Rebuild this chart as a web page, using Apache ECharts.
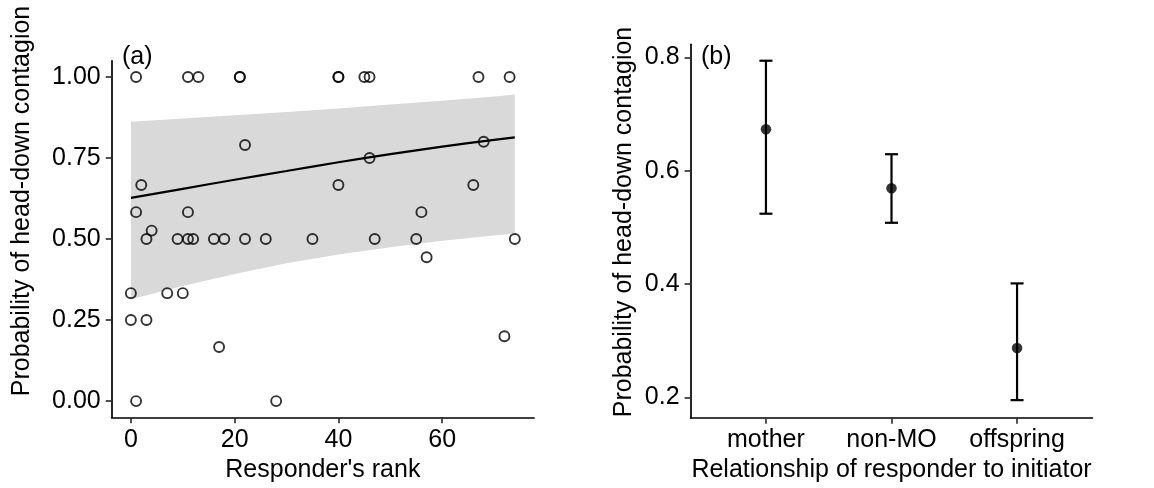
<!DOCTYPE html>
<html>
<head>
<meta charset="utf-8">
<script src="https://cdn.jsdelivr.net/npm/echarts@6/dist/echarts.min.js"></script>
<style>
html,body{margin:0;padding:0;background:#fff;}
#chart{width:1154px;height:488px;}
</style>
</head>
<body>
<div id="chart"></div>
<script>
// ---------- Panel (a) data ----------
const rankX = [1,11,13,21,21,40,40,45,46,67,73,
               22,68,46,
               2,40,66,
               1,11,56,
               4,
               3,9,11,12,16,18,22,26,35,47,55,74,
               57,
               0,7,10,
               0,3,
               72,
               17,
               1,28];
const probY = [1,1,1,1,1,1,1,1,1,1,1,
               0.79,0.8,0.75,
               0.667,0.667,0.667,
               0.583,0.583,0.583,
               0.526,
               0.5,0.5,0.5,0.5,0.5,0.5,0.5,0.5,0.5,0.5,0.5,0.5,
               0.444,
               0.333,0.333,0.333,
               0.25,0.25,
               0.2,
               0.167,
               0,0];
// fitted curve and confidence band
const fitX  = [0, 10, 20, 30, 40, 50, 60, 70, 74];
const fitY  = [0.627, 0.655, 0.683, 0.710, 0.737, 0.762, 0.785, 0.806, 0.814];
const loY   = [0.314, 0.355, 0.392, 0.425, 0.452, 0.475, 0.495, 0.511, 0.517];
const hiY   = [0.862, 0.872, 0.882, 0.892, 0.903, 0.915, 0.927, 0.940, 0.946];
const xTicksA = [0, 20, 40, 60];
const yTicksA = [0, 0.25, 0.5, 0.75, 1];

// ---------- Panel (b) data ----------
const relCats  = ['mother', 'non-MO', 'offspring'];
const relMean  = [0.673, 0.569, 0.287];
const relLower = [0.524, 0.508, 0.195];
const relUpper = [0.794, 0.629, 0.401];
const yTicksB  = [0.2, 0.4, 0.6, 0.8];

const FONT = '"Liberation Sans", Arial, Helvetica, sans-serif';
const FS = 25;
const INK = '#000000';

const chart = echarts.init(document.getElementById('chart'), null, {renderer: 'canvas'});

const scatterData = rankX.map((x, i) => [x, probY[i]]);
const fitData = fitX.map((x, i) => [x, fitY[i]]);
const bandData = fitX.map((x, i) => [x, loY[i], hiY[i]]);
const errData = relCats.map((c, i) => [i + 1, relLower[i], relUpper[i]]);
const meanData = relCats.map((c, i) => [i + 1, relMean[i]]);

function axis(extra) {
  return Object.assign({
    type: 'value',
    axisLine: {show: true, onZero: false, lineStyle: {color: INK, width: 1.7}},
    splitLine: {show: false}
  }, extra);
}
function ticks(vals) {
  return {show: true, length: 6, customValues: vals, lineStyle: {color: '#333', width: 1.7}};
}
function labels(vals, fmt, margin) {
  return {color: INK, fontFamily: FONT, fontSize: FS, margin: margin, customValues: vals, formatter: fmt};
}

const option = {
  backgroundColor: '#ffffff',
  animation: false,
  textStyle: {fontFamily: FONT},
  grid: [
    {left: 111.7, top: 60.8, width: 422.3, height: 356.5, containLabel: false, outerBoundsMode: 'none'},
    {left: 690.6, top: 44.3, width: 401.8, height: 373.4, containLabel: false, outerBoundsMode: 'none'}
  ],
  xAxis: [
    axis({
      gridIndex: 0, min: -3.7, max: 77.7,
      axisTick: ticks(xTicksA),
      axisLabel: labels(xTicksA, v => String(v), 10),
      name: "Responder's rank", nameLocation: 'middle', nameGap: 29,
      nameTextStyle: {color: INK, fontFamily: FONT, fontSize: FS}
    }),
    axis({
      gridIndex: 1, min: 0.4, max: 3.6,
      axisTick: ticks([1, 2, 3]),
      axisLabel: labels([1, 2, 3], v => relCats[Math.round(v) - 1] || '', 10),
      name: 'Relationship of responder to initiator', nameLocation: 'middle', nameGap: 29,
      nameTextStyle: {color: INK, fontFamily: FONT, fontSize: FS}
    })
  ],
  yAxis: [
    axis({
      gridIndex: 0, min: -0.05, max: 1.05,
      axisTick: ticks(yTicksA),
      axisLabel: labels(yTicksA, v => v.toFixed(2), 11)
    }),
    axis({
      gridIndex: 1, min: 0.164, max: 0.823,
      axisTick: ticks(yTicksB),
      axisLabel: labels(yTicksB, v => v.toFixed(1), 11)
    })
  ],
  graphic: [
    {type: 'text', x: 22, y: 201, rotation: Math.PI / 2,
     style: {text: 'Probability of head-down contagion', fill: INK, font: FS + 'px ' + FONT,
             align: 'center', verticalAlign: 'middle'}},
    {type: 'text', x: 624, y: 222, rotation: Math.PI / 2,
     style: {text: 'Probability of head-down contagion', fill: INK, font: FS + 'px ' + FONT,
             align: 'center', verticalAlign: 'middle'}},
    {type: 'text', x: 122, y: 57,
     style: {text: '(a)', fill: INK, font: FS + 'px ' + FONT, align: 'left', verticalAlign: 'middle'}},
    {type: 'text', x: 701, y: 57,
     style: {text: '(b)', fill: INK, font: FS + 'px ' + FONT, align: 'left', verticalAlign: 'middle'}}
  ],
  series: [
    {
      type: 'custom', xAxisIndex: 0, yAxisIndex: 0, z: 1, silent: true,
      data: bandData, encode: {x: 0, y: [1, 2]},
      renderItem: function (params, api) {
        if (params.dataIndex !== 0) return null;
        const pts = [];
        for (let i = 0; i < bandData.length; i++) pts.push(api.coord([bandData[i][0], bandData[i][2]]));
        for (let i = bandData.length - 1; i >= 0; i--) pts.push(api.coord([bandData[i][0], bandData[i][1]]));
        return {type: 'polygon', shape: {points: pts}, style: {fill: '#d9d9d9'}};
      }
    },
    {
      type: 'line', xAxisIndex: 0, yAxisIndex: 0, z: 2, data: fitData, smooth: true,
      showSymbol: false, lineStyle: {color: INK, width: 2.2}
    },
    {
      type: 'scatter', xAxisIndex: 0, yAxisIndex: 0, z: 3, data: scatterData,
      symbol: 'circle', symbolSize: 10,
      itemStyle: {color: 'rgba(0,0,0,0)', borderColor: INK, borderWidth: 1.9}
    },
    {
      type: 'custom', xAxisIndex: 1, yAxisIndex: 1, z: 2, data: errData, encode: {x: 0, y: [1, 2]},
      renderItem: function (params, api) {
        const x = api.value(0);
        const lo = api.coord([x, api.value(1)]);
        const hi = api.coord([x, api.value(2)]);
        const hw = 6.5;
        const st = {stroke: INK, lineWidth: 2.2};
        return {type: 'group', children: [
          {type: 'line', shape: {x1: lo[0], y1: lo[1], x2: hi[0], y2: hi[1]}, style: st},
          {type: 'line', shape: {x1: lo[0] - hw, y1: lo[1], x2: lo[0] + hw, y2: lo[1]}, style: st},
          {type: 'line', shape: {x1: hi[0] - hw, y1: hi[1], x2: hi[0] + hw, y2: hi[1]}, style: st}
        ]};
      }
    },
    {
      type: 'scatter', xAxisIndex: 1, yAxisIndex: 1, z: 3, data: meanData,
      symbol: 'circle', symbolSize: 10.5, itemStyle: {color: INK}
    }
  ]
};
chart.setOption(option);
</script>
</body>
</html>
